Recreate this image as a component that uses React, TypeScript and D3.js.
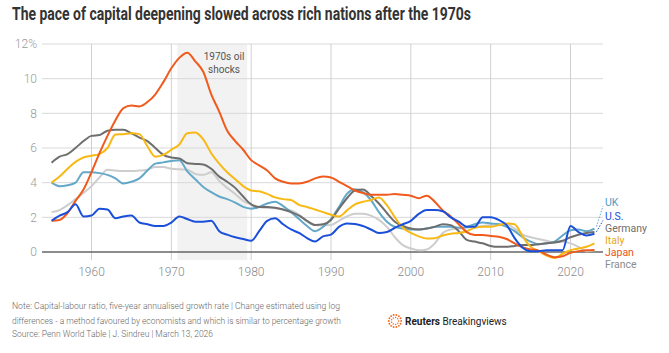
import { useEffect, useRef } from "react"
import * as d3 from "d3"

// yearly values, % (five-year annualised growth of capital-labour ratio)
const YEARS = d3.range(1955, 2024)

const JAPAN = [1.8, 1.85, 2.25, 2.95, 3.6, 4.6, 5.7, 6.7, 7.6, 8.3, 8.45, 8.4, 8.65, 9.1, 9.8,
  10.6, 11.2, 11.5, 11.0, 10.4, 9.1, 8.1, 7.0, 6.4, 5.9, 5.3, 5.0, 4.7, 4.25, 4.05,
  3.95, 3.95, 4.05, 4.25, 4.35, 4.3, 4.05, 3.8, 3.55, 3.4, 3.3, 3.3, 3.3, 3.35, 3.3,
  3.25, 3.1, 3.25, 2.9, 2.4, 2.05, 1.6, 1.15, 0.98, 0.98, 0.92, 0.88, 0.75, 0.5, 0.28,
  0.15, 0.08, -0.15, -0.3, -0.25, -0.05, 0.05, 0.1, 0.12]

const ITALY = [4.0, 4.35, 4.8, 5.2, 5.45, 5.55, 5.65, 6.0, 6.78, 6.8, 6.85, 6.8, 6.1, 5.5, 5.6,
  5.9, 6.2, 6.85, 6.9, 6.5, 5.7, 5.1, 4.6, 4.2, 3.8, 3.55, 3.5, 3.35, 3.15, 3.05,
  3.0, 2.72, 2.6, 2.45, 2.3, 2.15, 2.05, 2.4, 2.75, 2.9, 3.0, 3.15, 2.7, 2.0, 1.4,
  1.1, 0.9, 0.78, 0.8, 0.95, 1.05, 1.1, 1.2, 1.4, 1.45, 1.45, 1.55, 1.65, 1.6, 0.9,
  0.3, 0.05, -0.2, -0.35, -0.1, 0.1, 0.2, 0.3, 0.5]

const GERMANY = [5.15, 5.5, 5.65, 6.0, 6.4, 6.7, 6.75, 7.0, 7.05, 7.05, 6.85, 6.6, 6.4, 6.0, 5.6,
  5.45, 5.4, 5.12, 5.08, 5.05, 4.8, 4.35, 4.05, 3.7, 3.2, 2.75, 2.6, 2.6, 2.55, 2.45,
  2.3, 2.1, 1.8, 1.56, 1.6, 1.85, 2.5, 3.1, 3.55, 3.6, 3.25, 2.8, 2.25, 1.75, 1.5,
  1.35, 1.3, 1.35, 1.45, 1.6, 1.55, 1.2, 0.7, 0.6, 0.5, 0.35, 0.3, 0.3, 0.35, 0.4,
  0.4, 0.45, 0.5, 0.55, 0.65, 0.85, 1.0, 1.1, 1.15]

const UK = [4.0, 3.8, 3.85, 4.0, 4.6, 4.6, 4.55, 4.45, 4.25, 3.95, 4.05, 4.25, 4.7, 5.1, 5.17,
  5.25, 5.3, 4.65, 4.2, 3.75, 3.45, 3.2, 3.05, 2.85, 2.6, 2.5, 2.6, 2.8, 2.9, 2.65,
  2.3, 1.9, 1.5, 1.2, 1.45, 1.9, 2.6, 3.35, 3.62, 3.45, 3.0, 2.3, 1.75, 1.45, 1.35,
  1.3, 1.3, 1.35, 1.45, 1.45, 1.45, 1.4, 1.45, 1.6, 1.7, 1.65, 1.6, 1.45, 1.2, 0.85,
  0.6, 0.45, 0.5, 0.6, 0.95, 1.25, 1.3, 1.2, 1.35]

const US = [1.8, 2.1, 2.3, 2.75, 2.05, 2.1, 2.5, 2.45, 1.95, 2.05, 2.1, 1.7, 1.6, 1.5, 1.5,
  1.7, 2.05, 1.9, 1.75, 1.75, 1.8, 1.2, 1.0, 0.85, 0.75, 0.65, 1.2, 1.8, 1.95, 1.6,
  1.3, 1.1, 0.8, 0.6, 0.9, 1.0, 1.45, 1.65, 1.62, 1.5, 1.3, 1.1, 1.15, 1.4, 1.6,
  1.8, 2.2, 2.42, 2.42, 2.35, 2.0, 1.75, 1.46, 1.45, 2.0, 2.0, 1.85, 1.55, 0.8, 0.25,
  0.05, 0.05, 0.1, 0.1, 0.1, 1.5, 1.15, 0.95, 1.05]

const FRANCE = [2.3, 2.42, 2.7, 3.05, 3.4, 3.8, 4.3, 4.75, 4.7, 4.67, 4.67, 4.7, 4.75, 4.9, 4.9,
  4.8, 4.77, 4.75, 4.5, 4.45, 4.6, 4.1, 3.7, 3.35, 2.95, 2.75, 2.6, 2.55, 2.52, 2.45,
  2.4, 2.15, 1.75, 1.56, 1.55, 1.56, 1.8, 2.05, 2.2, 2.2, 2.1, 1.85, 1.45, 0.85, 0.4,
  0.2, 0.1, 0.15, 0.5, 1.1, 1.3, 1.35, 1.4, 1.45, 1.5, 1.55, 1.6, 1.6, 1.35, 1.0,
  0.85, 0.75, 0.65, 0.55, 0.6, 0.5, 0.3, 0.05, 0.1]

const SERIES = [
  { name: "France", values: FRANCE, color: "#cdcdcd", labelColor: "#8c8c8c" },
  { name: "UK", values: UK, color: "#63a8c8", labelColor: "#4f9cc2" },
  { name: "Germany", values: GERMANY, color: "#6e6e6e", labelColor: "#6e6e6e" },
  { name: "Italy", values: ITALY, color: "#f8b915", labelColor: "#e9a80d" },
  { name: "Japan", values: JAPAN, color: "#f05a1c", labelColor: "#e9521a" },
  { name: "U.S.", values: US, color: "#1a4fd9", labelColor: "#1a4fd9" },
]

// where each end label sits, in % units on the y axis
const LABEL_AT: Record<string, number> = { "UK": 2.885, "U.S.": 2.05, "Germany": 1.356, "Italy": 0.664, "Japan": -0.03, "France": -0.72 }
const LEADERS = ["UK", "U.S."]

const Y_TICKS = [0, 2, 4, 6, 8, 10, 12]
const X_TICKS = [1960, 1970, 1980, 1990, 2000, 2010, 2020]
const SHADE = [1970.75, 1979.5]

const TITLE = "The pace of capital deepening slowed across rich nations after the 1970s"
const NOTE1 = "Note: Capital-labour ratio, five-year annualised growth rate | Change estimated using log"
const NOTE2 = "differences - a method favoured by economists and which is similar to percentage growth"
const SOURCE = "Source: Penn World Table | J. Sindreu | March 13, 2026"

const FONT = "Roboto, 'Noto Sans', sans-serif"

export default function App() {
  const svgRef = useRef<SVGSVGElement>(null)

  useEffect(() => {
    const width = 669
    const height = 353
    const svg = d3.select(svgRef.current).attr("width", width).attr("height", height)
    svg.selectAll("*").remove()

    const x = d3.scaleLinear().domain([1960, 2020]).range([91.5, 570.5])
    const y = d3.scaleLinear().domain([0, 12]).range([252, 44])
    const left = 42, right = 603

    svg.append("rect").attr("width", width).attr("height", height).attr("fill", "#fff")

    // title
    svg.append("text")
      .attr("x", 12).attr("y", 20)
      .attr("textLength", 459).attr("lengthAdjust", "spacingAndGlyphs")
      .attr("font-family", FONT).attr("font-weight", 700).attr("font-size", 18)
      .attr("fill", "#333")
      .text(TITLE)

    // oil shock band
    svg.append("rect")
      .attr("x", x(SHADE[0])).attr("y", y(12))
      .attr("width", x(SHADE[1]) - x(SHADE[0]))
      .attr("height", 260 - y(12))
      .attr("fill", "#f2f2f2")
    const band = svg.append("text")
      .attr("font-family", FONT).attr("font-size", 10).attr("fill", "#555")
      .attr("text-anchor", "middle")
    band.append("tspan").attr("x", 224).attr("y", 60).text("1970s oil")
    band.append("tspan").attr("x", 224).attr("y", 73).text("shocks")

    // grid
    svg.append("g").selectAll("line")
      .data(Y_TICKS.filter(d => d !== 0))
      .join("line")
      .attr("x1", left).attr("x2", right)
      .attr("y1", d => y(d)).attr("y2", d => y(d))
      .attr("stroke", "#d9d9d9").attr("stroke-width", 1)
    svg.append("g").selectAll("line")
      .data(X_TICKS)
      .join("line")
      .attr("x1", d => x(d)).attr("x2", d => x(d))
      .attr("y1", y(12)).attr("y2", 260)
      .attr("stroke", "#d0d0d0").attr("stroke-width", 1)

    // y labels
    svg.append("g").selectAll("text")
      .data(Y_TICKS)
      .join("text")
      .attr("x", 37).attr("y", d => y(d)).attr("dy", "0.35em")
      .attr("text-anchor", "end")
      .attr("font-family", FONT).attr("font-weight", 300).attr("font-size", 12)
      .attr("fill", "#9a9a9a")
      .text(d => d === 12 ? "12%" : String(d))

    // x labels
    svg.append("g").selectAll("text")
      .data(X_TICKS)
      .join("text")
      .attr("x", d => x(d)).attr("y", 276)
      .attr("text-anchor", "middle")
      .attr("font-family", FONT).attr("font-weight", 300).attr("font-size", 12)
      .attr("fill", "#8a8a8a")
      .text(d => d)

    // zero line
    svg.append("line")
      .attr("x1", left).attr("x2", right)
      .attr("y1", y(0)).attr("y2", y(0))
      .attr("stroke", "#666").attr("stroke-width", 1.5)

    // lines
    const line = d3.line<number>()
      .x((_, i) => x(YEARS[i]))
      .y(d => y(d))
      .curve(d3.curveMonotoneX)
    svg.append("g").selectAll("path")
      .data(SERIES)
      .join("path")
      .attr("d", d => line(d.values))
      .attr("fill", "none")
      .attr("stroke", d => d.color)
      .attr("stroke-width", 2)
      .attr("stroke-linejoin", "round")

    // dotted leaders for the labels that sit away from their line
    const lastYear = YEARS[YEARS.length - 1]
    const labelX = 605
    SERIES.filter(s => LEADERS.includes(s.name)).forEach(s => {
      const endV = s.values[s.values.length - 1]
      svg.append("line")
        .attr("x1", x(lastYear) + 2).attr("y1", y(endV) - 2)
        .attr("x2", labelX - 2).attr("y2", y(LABEL_AT[s.name]) + 4)
        .attr("stroke", s.color).attr("stroke-width", 1)
        .attr("stroke-dasharray", "1.5,1.5")
    })

    // end labels
    svg.append("g").selectAll("text")
      .data(SERIES)
      .join("text")
      .attr("x", labelX).attr("y", d => y(LABEL_AT[d.name])).attr("dy", "0.35em")
      .attr("font-family", FONT).attr("font-size", 10.5)
      .attr("fill", d => d.labelColor)
      .text(d => d.name)

    // footer
    const foot = svg.append("g")
      .attr("font-family", FONT).attr("font-weight", 300).attr("font-size", 9.5)
      .attr("fill", "#666")
    foot.append("text").attr("x", 12).attr("y", 308.5)
      .attr("textLength", 328).attr("lengthAdjust", "spacingAndGlyphs").text(NOTE1)
    foot.append("text").attr("x", 12).attr("y", 323.5)
      .attr("textLength", 329).attr("lengthAdjust", "spacingAndGlyphs").text(NOTE2)
    foot.append("text").attr("x", 12).attr("y", 337)
      .attr("textLength", 201).attr("lengthAdjust", "spacingAndGlyphs").text(SOURCE)

    // logo
    const logo = svg.append("g").attr("transform", "translate(395,321)")
    const rings = [{ r: 6.2, n: 14, s: 0.95 }, { r: 3.6, n: 9, s: 0.75 }]
    rings.forEach(ring => {
      logo.selectAll(null)
        .data(d3.range(ring.n))
        .join("circle")
        .attr("cx", i => ring.r * Math.cos((i / ring.n) * 2 * Math.PI))
        .attr("cy", i => ring.r * Math.sin((i / ring.n) * 2 * Math.PI))
        .attr("r", ring.s)
        .attr("fill", "#f26a21")
    })
    const r = svg.append("text").attr("x", 405).attr("y", 325)
      .attr("font-family", FONT).attr("font-size", 10).attr("fill", "#222")
      .attr("font-weight", 700).text("Reuters")
    const rw = (r.node() as SVGTextElement).getComputedTextLength()
    svg.append("text").attr("x", 405 + rw + 2.5).attr("y", 325)
      .attr("font-family", FONT).attr("font-size", 10).attr("fill", "#222")
      .attr("font-weight", 400).text("Breakingviews")
  }, [])

  return (
    <div style={{ position: "absolute", left: 0, top: 0 }}>
      <svg ref={svgRef} style={{ display: "block" }} />
    </div>
  )
}
